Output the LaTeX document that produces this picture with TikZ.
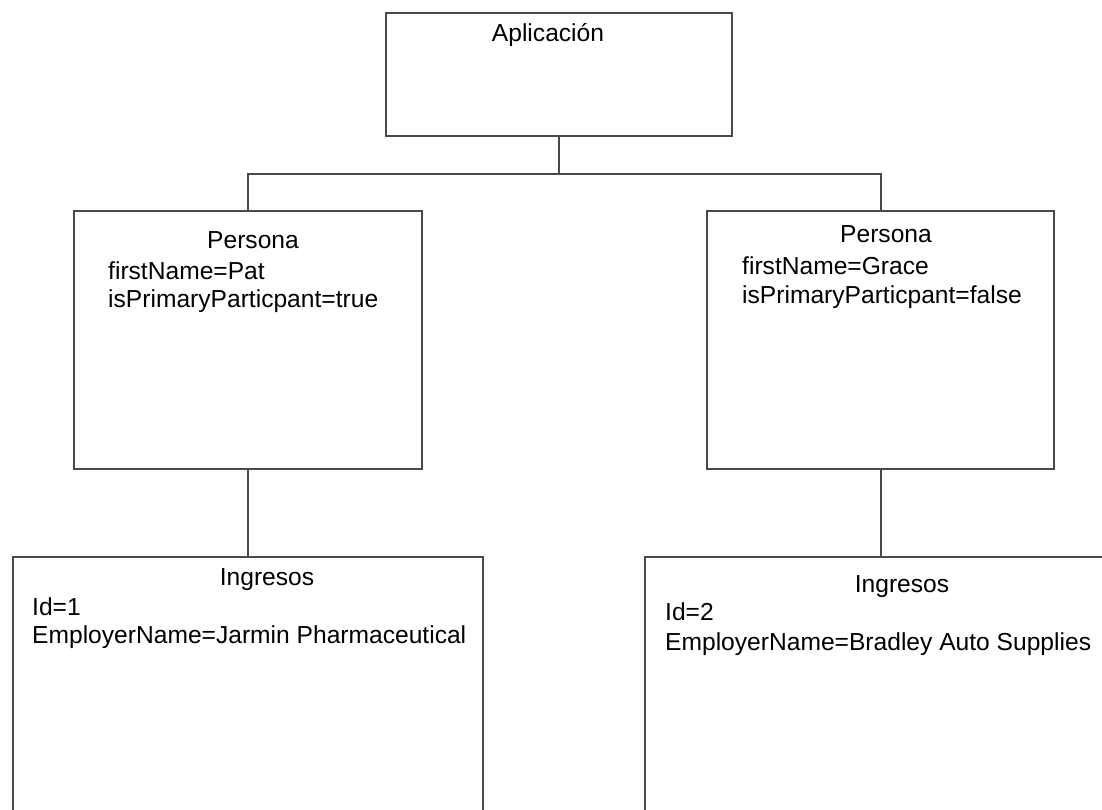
\documentclass[tikz,border=0pt]{standalone}
\usepackage{fontspec}
\setmainfont{Liberation Sans}
\usepackage{xcolor}
\usetikzlibrary{positioning}

\definecolor{boxgray}{HTML}{4A4A4A}

\tikzset{
  klass/.style={draw=boxgray, line width=2pt, inner sep=0pt, anchor=north west},
  title/.style={anchor=base, inner sep=0pt},
  attr/.style={anchor=base west, inner sep=0pt},
  link/.style={draw=boxgray, line width=2pt},
}

\begin{document}
\begin{tikzpicture}[x=1pt,y=-1pt,every node/.style={font=\fontsize{24.6}{29}\selectfont}]

% page frame
\useasboundingbox (0,0) rectangle (1102,810);
\fill[white] (0,0) rectangle (1102,810);
\clip (0,0) rectangle (1102,810);

% boxes
\node[klass, minimum width=346pt, minimum height=123pt] (app) at (385,12) {};
\node[klass, minimum width=348pt, minimum height=258pt] (perL) at (73,210) {};
\node[klass, minimum width=347pt, minimum height=258pt] (perR) at (706,210) {};
\node[klass, minimum width=470pt, minimum height=300pt] (ingL) at (12,556) {};
\node[klass, minimum width=520pt, minimum height=300pt] (ingR) at (644,556) {};

% tree lines
\coordinate (bus) at ([yshift=-37pt]app.south);
\draw[link] (app.south) -- (bus);
\draw[link] (perL.north) |- (bus) -| (perR.north);
\draw[link] (perL.south) -- (ingL.north);
\draw[link] (perR.south) -- (perR.south |- ingR.north);

% texts
\node[title] (appT) at (548,42) {Aplicación};

\node[title] (perLT) at (253,249) {Persona};
\node[attr] (perLA) at (108,279) {firstName=Pat};
\node[attr] (perLB) at (108,307) {isPrimaryParticpant=true};

\node[title] (perRT) at (886,243) {Persona};
\node[attr] (perRA) at (742,274) {firstName=Grace};
\node[attr] (perRB) at (742,303) {isPrimaryParticpant=false};

\node[title] (ingLT) at (267,585) {Ingresos};
\node[attr] (ingLA) at (32,615) {Id=1};
\node[attr] (ingLB) at (32,643) {EmployerName=Jarmin Pharmaceutical};

\node[title] (ingRT) at (902,592) {Ingresos};
\node[attr] (ingRA) at (665,620) {Id=2};
\node[attr] (ingRB) at (665,650) {EmployerName=Bradley Auto Supplies};
\end{tikzpicture}
\end{document}
